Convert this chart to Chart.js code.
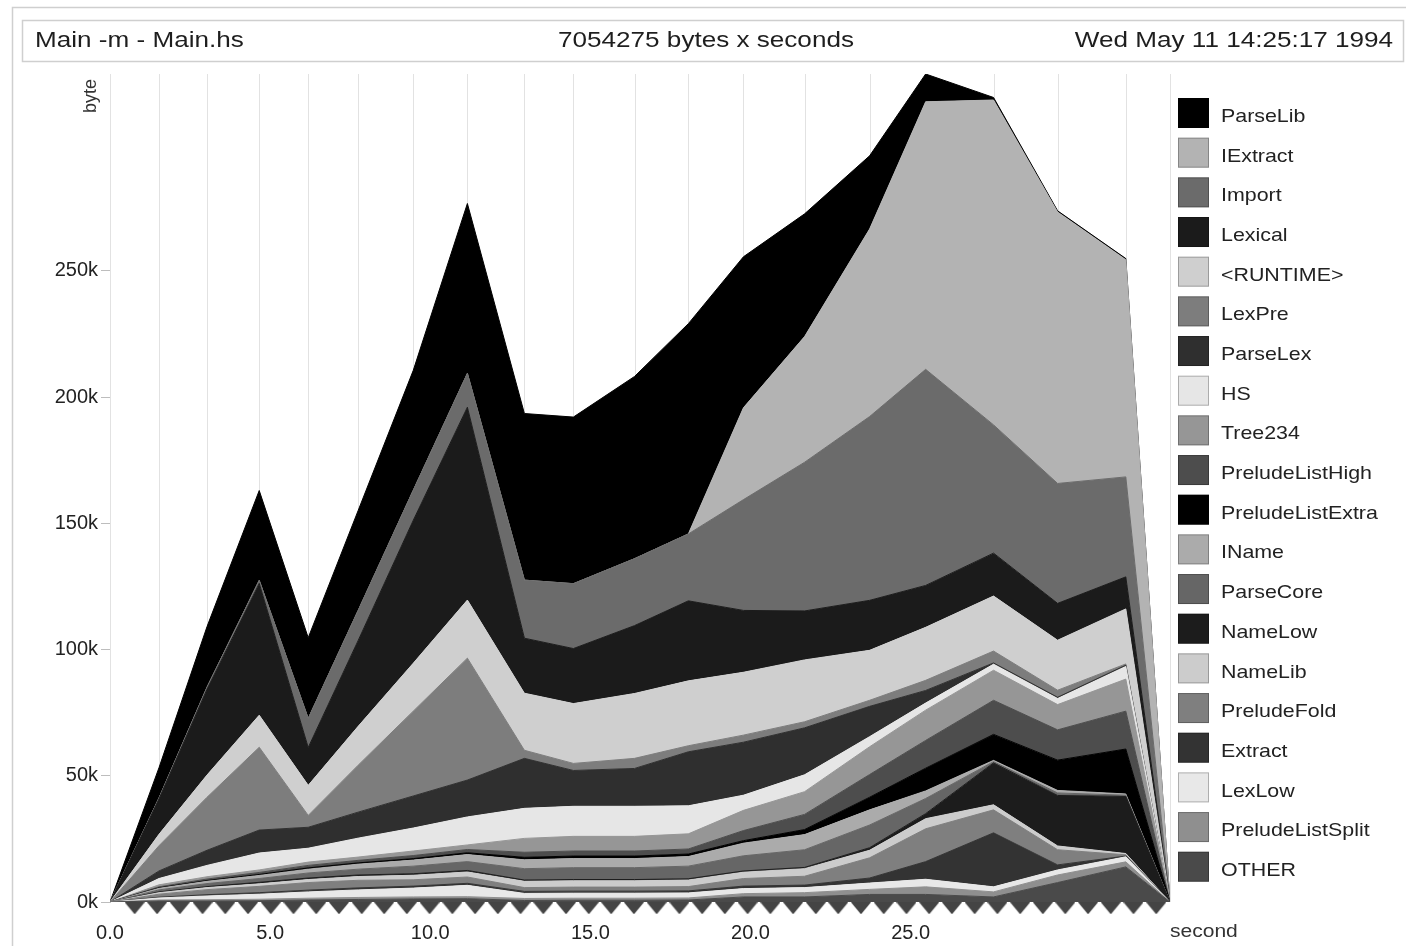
<!DOCTYPE html>
<html>
<head>
<meta charset="utf-8">
<title>Main -m - Main.hs</title>
<script src="https://cdn.jsdelivr.net/npm/chart.js@4.4.1/dist/chart.umd.min.js"></script>
<style>
  html, body { margin: 0; padding: 0; background: #fff; }
  canvas { display: block; }
</style>
</head>
<body>
<canvas id="profile" width="1406" height="946"></canvas>
<script>
'use strict';

// sample times in seconds (one grid line each)
let sampleTimes = [0, 1.53, 3.03, 4.66, 6.19, 7.75, 9.47, 11.16, 12.94, 14.47, 16.38, 18.06, 19.78, 21.69, 23.72, 25.47, 27.59, 29.59, 31.72, 33.1];

// little marks along the time axis
let markTimes = [0.77, 1.47, 2.18, 2.89, 3.60, 4.31, 5.02, 5.73, 6.44, 7.15, 7.86, 8.56, 9.27, 9.98, 10.69, 11.40,
  12.11, 12.82, 13.53, 14.24, 14.95, 15.65, 16.36, 17.07, 17.78, 18.49, 19.20, 19.91, 20.62, 21.33, 22.04, 22.74,
  23.45, 24.16, 24.87, 25.58, 26.29, 27.00, 27.71, 28.42, 29.13, 29.83, 30.54, 31.25, 31.96, 32.67];

let xTickValues = [0, 5, 10, 15, 20, 25];
let yTickValues = [0, 50, 100, 150, 200, 250];

// heap (kbytes) per cost centre, bottom band first
let other =            [0, 0.4, 0.4, 0.5, 0.8, 1, 1.2, 1.3, 0.6, 0.7, 0.7, 0.8, 2, 2, 3, 3, 2, 7.7, 13.9, 0];
let preludeListSplit = [0, 0.4, 0.5, 0.6, 0.7, 0.8, 0.8, 0.8, 0.8, 0.8, 0.8, 0.8, 1.3, 1.7, 2, 3, 2, 3, 2, 0];
let lexLow =           [0, 0.8, 1.5, 2, 2.5, 3, 3.5, 4.5, 2, 2, 2, 2, 2, 2, 2.5, 3, 2, 2, 2, 0];
let extract =          [0, 0.3, 0.5, 0.6, 0.7, 0.8, 0.8, 0.8, 0.8, 0.8, 0.8, 0.8, 1, 1, 2, 7, 21.4, 2, 0.3, 0];
let preludeFold =      [0, 1.2, 2, 2.5, 3, 3, 2.5, 2.5, 1.5, 1.6, 1.6, 1.7, 3, 3.5, 8, 13, 9.1, 6, 0.5, 0];
let nameLib =          [0, 0.6, 0.8, 1, 1.2, 1.5, 1.8, 2, 2.5, 2.5, 2.5, 2.6, 2.5, 3, 3, 4, 2, 1.5, 0.5, 0];
let nameLow =          [0, 0.3, 0.4, 0.6, 0.6, 0.6, 0.6, 0.6, 0.5, 0.5, 0.5, 0.5, 0.5, 0.5, 1, 2, 16.6, 20, 22.6, 0];
let parseCore =        [0, 0.8, 1.2, 1.5, 2, 2.3, 3, 3.5, 4.5, 4.7, 4.7, 5, 6, 7, 9, 6, 0.5, 1, 0.5, 0];
let iName =            [0, 0.6, 0.9, 1.2, 1.5, 2, 2.4, 2.8, 3.5, 3.6, 3.6, 3.8, 5, 6, 6, 3, 0.5, 1, 0.5, 0];
let preludeListExtra = [0, 0.2, 0.3, 0.4, 0.5, 0.5, 0.6, 0.7, 1, 1, 1, 1, 1, 2, 5, 9, 10.3, 12, 17.8, 0];
let preludeListHigh =  [0, 0.4, 0.6, 0.8, 1, 1, 1.2, 1.3, 2, 2, 2, 2, 4, 6, 9, 11, 13.5, 12, 15, 0];
let tree234 =          [0, 0.8, 0.9, 1, 1.3, 1.3, 1.8, 1.8, 5.5, 5.8, 5.8, 6, 8, 9, 11, 12, 11.9, 10, 12.7, 0];
let hs =               [0, 2.5, 4.5, 6.7, 5.5, 7.5, 9.1, 11.1, 11.9, 11.9, 11.9, 11.1, 6, 6.7, 4, 2.8, 2.4, 2.4, 5, 0];
let parseLex =         [0, 3, 6, 9.1, 8.3, 10.3, 12.7, 14.6, 19.8, 14.2, 15, 21.4, 21, 18.6, 12, 5, 0.5, 0.5, 0.5, 0];
let lexPre =           [0, 10, 21, 32.8, 4.7, 18.6, 33.6, 48.3, 3.2, 2.8, 4, 2.4, 2.8, 2.4, 2.4, 4, 4.7, 2.8, 0.5, 0];
let runtime =          [0, 4.5, 8.8, 12.7, 11.9, 15.4, 19, 23, 22.6, 23.7, 25.7, 25.7, 24.9, 24.5, 19.8, 21, 21.8, 19.8, 21.8, 0];
let lexical =          [0, 14, 34, 52.2, 15, 34, 56.6, 76.4, 21.8, 21.8, 26.9, 31.7, 24.5, 19.4, 19.8, 16.6, 17, 14.6, 12.7, 0];
let importCc =         [0, 0.4, 0.8, 1.2, 11.5, 11.9, 11.9, 13.4, 23, 25.7, 26.5, 26.5, 43.9, 58.9, 72.8, 85.6, 50.8, 47.5, 39.6, 0];
let iExtract =         [0, 0, 0, 0, 0, 0, 0, 0, 0, 0, 0, 0, 36.4, 49.8, 74.3, 106, 128.7, 107.5, 86, 0];
let parseLib =         [0, 12, 24, 35.6, 32, 39.6, 47.5, 67.3, 66, 66, 72.2, 83.3, 59.8, 48.6, 29, 11, 1, 0.5, 0.5, 0];

// bottom to top: [name, values, grey]
let bands = [
  ['OTHER', other, '#4a4a4a'],
  ['PreludeListSplit', preludeListSplit, '#8f8f8f'],
  ['LexLow', lexLow, '#e8e8e8'],
  ['Extract', extract, '#333333'],
  ['PreludeFold', preludeFold, '#7f7f7f'],
  ['NameLib', nameLib, '#cccccc'],
  ['NameLow', nameLow, '#1c1c1c'],
  ['ParseCore', parseCore, '#666666'],
  ['IName', iName, '#ababab'],
  ['PreludeListExtra', preludeListExtra, '#000000'],
  ['PreludeListHigh', preludeListHigh, '#4d4d4d'],
  ['Tree234', tree234, '#969696'],
  ['HS', hs, '#e6e6e6'],
  ['ParseLex', parseLex, '#2f2f2f'],
  ['LexPre', lexPre, '#7d7d7d'],
  ['<RUNTIME>', runtime, '#cfcfcf'],
  ['Lexical', lexical, '#1b1b1b'],
  ['Import', importCc, '#6b6b6b'],
  ['IExtract', iExtract, '#b3b3b3'],
  ['ParseLib', parseLib, '#000000']
];

const FONT = '"Liberation Sans", Arial, Helvetica, sans-serif';
const STRETCH = 1.15; // the original print is a bit wide

// draws text widened the same way as the print
function wideText(ctx, text, x, y, size, align) {
  ctx.save();
  ctx.font = size + 'px ' + FONT;
  ctx.textBaseline = 'middle';
  ctx.textAlign = 'left';
  let w = ctx.measureText(text).width * STRETCH;
  let left = x;
  if (align === 'right') left = x - w;
  if (align === 'center') left = x - w / 2;
  ctx.translate(left, y);
  ctx.scale(STRETCH, 1);
  ctx.fillText(text, 0, 0);
  ctx.restore();
}

// flat, downward pointing sample mark
function sampleMark() {
  let c = document.createElement('canvas');
  c.width = 20;
  c.height = 12;
  let g = c.getContext('2d');
  g.fillStyle = '#444444';
  g.beginPath();
  g.moveTo(0, 0);
  g.lineTo(20, 0);
  g.lineTo(10, 12);
  g.closePath();
  g.fill();
  return c;
}

let datasets = bands.map((b, i) => ({
  label: b[0],
  data: sampleTimes.map((t, j) => ({ x: t, y: b[1][j] })),
  backgroundColor: b[2],
  borderColor: b[2],
  borderWidth: 1,
  pointRadius: 0,
  tension: 0,
  fill: i === 0 ? 'origin' : '-1',
  stack: 'heap'
}));

datasets.push({
  label: 'samples',
  data: markTimes.map(t => ({ x: t, y: -2.5 })),
  stack: 'marks',
  showLine: false,
  fill: false,
  pointStyle: sampleMark(),
  pointRadius: 10,
  pointBorderWidth: 0,
  clip: false
});

// grid lines at samples, the header, axis names and the key
let decorations = {
  id: 'decorations',
  beforeDatasetsDraw(chart) {
    let ctx = chart.ctx;
    let area = chart.chartArea;
    let xs = chart.scales.x;
    ctx.save();
    ctx.strokeStyle = '#e2e2e2';
    ctx.lineWidth = 1;
    sampleTimes.forEach(t => {
      let px = Math.round(xs.getPixelForValue(t)) + 0.5;
      ctx.beginPath();
      ctx.moveTo(px, area.top);
      ctx.lineTo(px, area.bottom);
      ctx.stroke();
    });
    ctx.restore();
  },
  afterDraw(chart) {
    let ctx = chart.ctx;
    let area = chart.chartArea;
    ctx.save();
    // outer frame and header box
    ctx.strokeStyle = '#cfcfcf';
    ctx.lineWidth = 1.5;
    ctx.strokeRect(12.5, 7.5, 1500, 1500);
    ctx.strokeRect(22.5, 20.5, 1381, 41);
    ctx.fillStyle = '#1e1e1e';
    wideText(ctx, 'Main -m - Main.hs', 35, 41, 22.7, 'left');
    wideText(ctx, '7054275 bytes x seconds', 706, 41, 22.7, 'center');
    wideText(ctx, 'Wed May 11 14:25:17 1994', 1393, 41, 22.7, 'right');

    // axis names
    ctx.fillStyle = '#333';
    ctx.save();
    ctx.translate(91, 96);
    ctx.rotate(-Math.PI / 2);
    ctx.font = '18px ' + FONT;
    ctx.textAlign = 'center';
    ctx.textBaseline = 'middle';
    ctx.fillText('byte', 0, 0);
    ctx.restore();
    wideText(ctx, 'second', area.right, 932, 18.3, 'left');

    // key, top band first
    let keys = chart.data.datasets.filter(d => d.stack === 'heap').slice().reverse();
    keys.forEach((d, i) => {
      let top = area.top + 24 + i * 39.67;
      ctx.fillStyle = d.backgroundColor;
      ctx.fillRect(area.right + 8, top, 31, 30);
      ctx.strokeStyle = 'rgba(0,0,0,0.25)';
      ctx.lineWidth = 1;
      ctx.strokeRect(area.right + 8.5, top + 0.5, 30, 29);
      ctx.fillStyle = '#222';
      wideText(ctx, d.label, area.right + 51, top + 19, 18.6, 'left');
    });
    ctx.restore();
  }
};

let ctx = document.getElementById('profile').getContext('2d');
let profileChart = new Chart(ctx, {
  type: 'line',
  data: { datasets: datasets },
  plugins: [decorations],
  options: {
    responsive: false,
    animation: false,
    events: [],
    layout: { padding: { left: 0, top: 74, right: 236, bottom: 0 } },
    plugins: {
      legend: { display: false },
      tooltip: { enabled: false }
    },
    scales: {
      x: {
        type: 'linear',
        min: 0,
        max: 33.1,
        grid: { display: false, drawTicks: false },
        border: { display: false },
        afterBuildTicks: axis => { axis.ticks = xTickValues.map(v => ({ value: v })); },
        afterFit: axis => { axis.height = 44; },
        ticks: {
          padding: 19,
          maxRotation: 0,
          autoSkip: false,
          color: '#222',
          font: { family: FONT, size: 20 },
          callback: v => v.toFixed(1)
        }
      },
      y: {
        stacked: true,
        min: 0,
        max: 328,
        grid: { drawOnChartArea: false, color: '#bdbdbd', tickLength: 9 },
        border: { color: '#bdbdbd' },
        afterBuildTicks: axis => { axis.ticks = yTickValues.map(v => ({ value: v })); },
        afterFit: axis => { axis.width = 110; },
        ticks: {
          padding: 3,
          color: '#222',
          font: { family: FONT, size: 20 },
          callback: v => v + 'k'
        }
      }
    }
  }
});
</script>
</body>
</html>
